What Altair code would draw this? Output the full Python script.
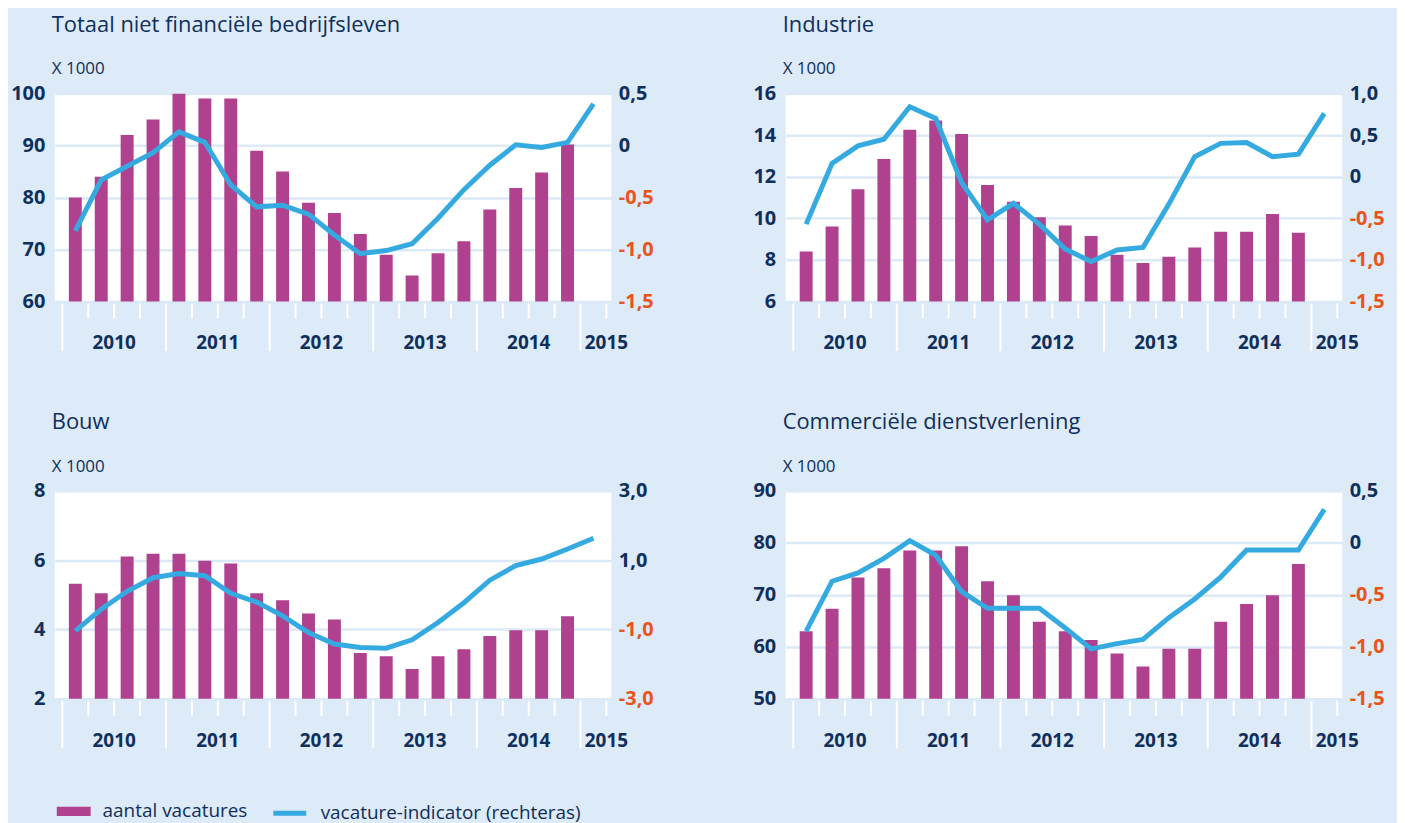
import altair as alt
import pandas as pd

# ---------------- data ----------------
quarters = [f"{y}K{q}" for y in range(2010, 2015) for q in range(1, 5)] + ["2015K1"]
years = ["2010", "2011", "2012", "2013", "2014", "2015"]

titles = ["Totaal niet financiële bedrijfsleven", "Industrie", "Bouw", "Commerciële dienstverlening"]

bars_totaal = [80, 84, 92, 95, 100, 99, 99, 89, 85, 79, 77, 73, 69, 65, 69.3, 71.6, 77.7, 81.8, 84.8, 90.2]
line_totaal = [-0.82, -0.33, -0.20, -0.07, 0.13, 0.03, -0.38, -0.59, -0.575, -0.66, -0.86, -1.04, -1.01,
               -0.945, -0.70, -0.425, -0.19, 0.006, -0.02, 0.03, 0.40]

bars_industrie = [8.4, 9.6, 11.4, 12.85, 14.25, 14.7, 14.05, 11.6, 10.8, 10.05, 9.65, 9.15, 8.25, 7.85,
                  8.15, 8.6, 9.35, 9.35, 10.2, 9.3]
line_industrie = [-0.57, 0.16, 0.37, 0.45, 0.84, 0.70, -0.07, -0.52, -0.32, -0.57, -0.87, -1.02, -0.88,
                  -0.85, -0.33, 0.24, 0.40, 0.41, 0.24, 0.27, 0.76]

bars_bouw = [5.32, 5.04, 6.1, 6.18, 6.18, 5.98, 5.9, 5.04, 4.84, 4.46, 4.29, 3.32, 3.23, 2.86, 3.23, 3.43,
             3.81, 3.98, 3.98, 4.38]
line_bouw = [-1.04, -0.42, 0.1, 0.49, 0.61, 0.55, 0.04, -0.21, -0.61, -1.09, -1.42, -1.52, -1.54, -1.3,
             -0.8, -0.23, 0.42, 0.84, 1.03, 1.32, 1.63]

bars_comm = [63, 67.3, 73.3, 75.1, 78.5, 78.5, 79.3, 72.6, 69.9, 64.8, 63, 61.3, 58.7, 56.2, 59.6, 59.6,
             64.8, 68.2, 69.9, 75.9]
line_comm = [-0.85, -0.37, -0.29, -0.15, 0.02, -0.12, -0.47, -0.63, -0.63, -0.63, -0.82, -1.02, -0.97,
             -0.93, -0.72, -0.54, -0.33, -0.07, -0.07, -0.07, 0.32]

left_ticks = [[60, 70, 80, 90, 100], [6, 8, 10, 12, 14, 16], [2, 4, 6, 8], [50, 60, 70, 80, 90]]
right_ticks = [[-1.5, -1.0, -0.5, 0, 0.5], [-1.5, -1.0, -0.5, 0, 0.5, 1.0], [-3.0, -1.0, 1.0, 3.0],
               [-1.5, -1.0, -0.5, 0, 0.5]]

bar_label = "aantal vacatures"
line_label = "vacature-indicator (rechteras)"

# ---------------- style ----------------
BG = "#ddeaf7"
NAVY = "#0f2f5c"
MAG = "#b0418f"
BLUE = "#35aae1"
ORANGE = "#e8541c"
GRID = "#dce9f6"
FONT = "Open Sans"
W, H = 559, 209

x_scale = alt.Scale(domain=[-0.1, 21], nice=False, zero=False)

right_label_expr = ("datum.value == 0 ? '0' : (datum.value < 0 ? '-' : '') + "
                    "replace(format(abs(datum.value), '.1f'), '.', ',')")


def panel(k, title, bars, line):
    lt, rt = left_ticks[k], right_ticks[k]
    df_bar = pd.DataFrame({"pos": [i + 0.5 for i in range(len(bars))], "kw": quarters[:len(bars)],
                           "aantal": bars, "serie_bar": bar_label})
    df_line = pd.DataFrame({"pos": [i + 0.5 for i in range(len(line))], "kw": quarters[:len(line)],
                            "indicator": line, "serie_line": line_label})
    df_sep = pd.DataFrame({"b": list(range(len(quarters) + 1))})
    df_sep["jaargrens"] = [(b % 4 == 0) and b < len(quarters) for b in df_sep["b"]]
    year_pos = []
    for j, y in enumerate(years):
        qs = [i for i, q in enumerate(quarters) if q.startswith(y)]
        year_pos.append((qs[0] + qs[-1] + 1) / 2 if len(qs) == 4 else qs[-1] + 1)
    df_years = pd.DataFrame({"jaar": years, "pos": year_pos})

    bar = alt.Chart(df_bar).mark_bar(size=13, clip=True).encode(
        x=alt.X("pos:Q", scale=x_scale,
                axis=alt.Axis(title=None, labels=False, ticks=False, grid=False, domain=True,
                              domainColor=NAVY, domainWidth=3, zindex=1)),
        y=alt.Y("aantal:Q", scale=alt.Scale(domain=[lt[0], lt[-1]], zero=False, nice=False),
                axis=alt.Axis(orient="left", values=lt, title=None, ticks=False, domain=False,
                              grid=True, gridColor=GRID, gridWidth=2.5, labelFont=FONT,
                              labelFontSize=20, labelFontWeight="bold", labelColor=NAVY,
                              labelPadding=10)),
        color=alt.Color("serie_bar:N", scale=alt.Scale(domain=[bar_label], range=[MAG]),
                        legend=alt.Legend(orient="none", legendX=2, legendY=704, title=None,
                                          symbolType="M-1,-0.27H1V0.27H-1Z", symbolSize=1156,
                                          symbolStrokeWidth=0, symbolOpacity=1,
                                          labelFont=FONT, labelFontSize=19, labelColor=NAVY,
                                          labelOffset=12, labelLimit=400)),
    )
    sep_short = alt.Chart(df_sep).transform_filter("!datum.jaargrens").mark_rule(
        color="white", strokeWidth=2).encode(x=alt.X("b:Q", scale=x_scale, axis=None),
                                             y=alt.value(H + 2), y2=alt.value(H + 17))
    sep_long = alt.Chart(df_sep).transform_filter("datum.jaargrens").mark_rule(
        color="white", strokeWidth=2).encode(x=alt.X("b:Q", scale=x_scale, axis=None),
                                             y=alt.value(H + 2), y2=alt.value(H + 50))
    yrs = alt.Chart(df_years).mark_text(font=FONT, fontSize=19, fontWeight="bold", color=NAVY,
                                        baseline="middle", align="center").encode(
        x=alt.X("pos:Q", scale=x_scale, axis=None), y=alt.value(H + 42), text="jaar:N")
    ln = alt.Chart(df_line).mark_line(strokeWidth=5).encode(
        x=alt.X("pos:Q", scale=x_scale, axis=None),
        y=alt.Y("indicator:Q", scale=alt.Scale(domain=[rt[0], rt[-1]], zero=False, nice=False),
                axis=alt.Axis(orient="right", values=rt, title=None, ticks=False, domain=False,
                              grid=False, labelFont=FONT, labelFontSize=20, labelFontWeight="bold",
                              labelColor={"condition": {"test": "datum.value < 0", "value": ORANGE},
                                          "value": NAVY},
                              labelExpr=right_label_expr, labelPadding=7)),
        stroke=alt.Stroke("serie_line:N", scale=alt.Scale(domain=[line_label], range=[BLUE]),
                          legend=alt.Legend(orient="none", legendX=217, legendY=704, title=None,
                                            symbolType="stroke", symbolSize=1089,
                                            symbolStrokeWidth=5, labelFont=FONT, labelFontSize=19,
                                            labelColor=NAVY, labelOffset=12, labelLimit=400)),
    )
    return alt.layer(bar, sep_short, sep_long, yrs, ln).resolve_scale(y="independent").properties(
        width=W, height=H,
        title=alt.TitleParams(text=title, subtitle="X 1000", anchor="start", frame="group",
                              font=FONT, fontSize=22, fontWeight="normal", color=NAVY,
                              subtitleFont=FONT, subtitleFontSize=17, subtitleColor=NAVY,
                              subtitlePadding=25, offset=5, dx=-3),
    )


panels = [
    panel(0, titles[0], bars_totaal, line_totaal),
    panel(1, titles[1], bars_industrie, line_industrie),
    panel(2, titles[2], bars_bouw, line_bouw),
    panel(3, titles[3], bars_comm, line_comm),
]

chart = alt.concat(*panels, columns=2, spacing={"row": 190, "column": 175}, bounds="flush").properties(
    background=BG, padding={"left": 2, "top": 4, "right": 12, "bottom": 10},
).configure_view(fill="white", strokeWidth=0)

chart.save("out.html", embed_options={"renderer": "svg", "actions": False})
